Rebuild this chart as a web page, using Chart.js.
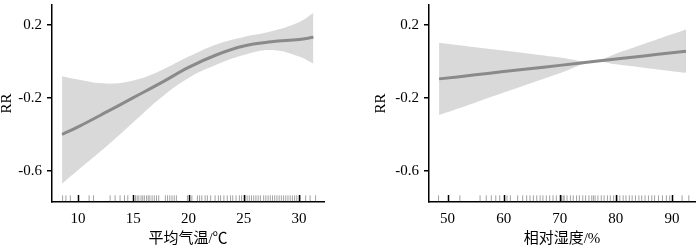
<!DOCTYPE html>
<html>
<head>
<meta charset="utf-8">
<script src="https://cdn.jsdelivr.net/npm/chart.js@4/dist/chart.umd.min.js"></script>
<style>
  body { margin: 0; background: #fff; }
  .box { position: absolute; top: 0; width: 350px; height: 247px; }
</style>
</head>
<body>
<div class="box" style="left:0"><canvas id="c1"></canvas></div>
<div class="box" style="left:350px"><canvas id="c2"></canvas></div>
<script>
/*
 * 数据：平均气温
 */
var tempX = [8.55, 10, 12.5, 15, 17.5, 20, 22.5, 25, 27.5, 30, 31.3];
var tempFit = [-0.40, -0.358, -0.279, -0.198, -0.117, -0.032, 0.036, 0.085, 0.108, 0.121, 0.133];
var tempUpper = [-0.081, -0.099, -0.121, -0.104, -0.049, 0.027, 0.094, 0.135, 0.166, 0.216, 0.266];
var tempLower = [-0.67, -0.595, -0.469, -0.333, -0.198, -0.090, -0.018, 0.036, 0.063, 0.027, -0.012];
var tempRug = [8.6, 8.9, 9.3, 11.0, 11.4, 12.9, 13.35, 13.8, 14.2, 14.5, 15.2, 15.35, 15.5, 15.7,
	15.85, 16.0, 16.2, 16.35, 16.5, 16.7, 16.9, 17.1, 17.3, 17.9, 18.1, 18.3, 18.5, 18.7, 18.9,
	19.9, 20.1, 20.3, 20.8, 21.0, 21.2, 21.5, 21.7, 22.0, 22.4, 22.7, 22.9, 23.2, 23.5, 23.8,
	24.0, 24.3, 24.6, 24.8, 25.1, 25.3, 25.5, 25.7, 25.9, 26.1, 26.3, 26.5, 26.8, 27.0, 27.2,
	27.4, 27.6, 27.8, 28.0, 28.2, 28.4, 28.6, 28.8, 29.0, 29.2, 29.4, 29.6, 29.8, 30.1, 30.6,
	31.0, 31.5];
var tempTicks = [10, 15, 20, 25, 30];

/*
 * 数据：相对湿度
 */
var humX = [48.5, 55, 60, 65, 70, 76, 80, 85, 90, 92.5];
var humFit = [-0.095, -0.073, -0.055, -0.038, -0.021, 0, 0.014, 0.031, 0.048, 0.057];
var humUpper = [0.103, 0.078, 0.060, 0.041, 0.022, 0, 0.043, 0.096, 0.149, 0.176];
var humLower = [-0.293, -0.224, -0.170, -0.117, -0.064, 0, -0.015, -0.034, -0.053, -0.062];
var humRug = [48.4, 52.2, 55.8, 56.9, 57.8, 58.6, 59.3, 60.6, 61.2, 62.5, 63.4, 64.1, 64.7, 65.3,
	65.9, 66.5, 67.0, 67.6, 68.2, 68.8, 69.4, 70.3, 70.6, 70.8, 71.3, 71.9, 72.4, 73.0, 73.5, 74.1,
	74.6, 75.2, 75.7, 76.0, 76.3, 76.8, 77.4, 77.9, 78.5, 79.0, 79.6, 80.2, 80.7, 81.3, 81.8,
	82.4, 82.9, 83.5, 84.1, 84.6, 85.2, 85.8, 86.4, 86.9, 87.6, 88.3, 89.0, 89.6, 91.8, 93.0];
var humTicks = [50, 60, 70, 80, 90];

var rrTicks = [0.2, -0.2, -0.6];

var SERIF = "'Liberation Serif', 'Noto Sans CJK SC', serif";
var RUG_Y = -0.75;

function pts(xs, ys) {
	var out = [];
	for (var i = 0; i < xs.length; i++) out.push({ x: xs[i], y: ys[i] });
	return out;
}

/*
 * 横轴刻度画在图内（向上）。
 */
var innerTicks = {
	id: 'innerTicks',
	afterDraw: function(chart) {
		var ctx = chart.ctx;
		var xs = chart.scales.x;
		var bottom = chart.chartArea.bottom;
		ctx.save();
		ctx.strokeStyle = '#000';
		ctx.lineWidth = 1.5;
		xs.ticks.forEach(function(t) {
			var px = Math.round(xs.getPixelForValue(t.value)) + 0.5;
			ctx.beginPath();
			ctx.moveTo(px, bottom);
			ctx.lineTo(px, bottom - 7);
			ctx.stroke();
		});
		ctx.restore();
	}
};

function makeChart(id, opt) {
	var ctx = document.getElementById(id).getContext('2d');
	return new Chart(ctx, {
		type: 'scatter',
		data: {
			datasets: [ {
				data: pts(opt.x, opt.upper),
				showLine: true,
				borderWidth: 0,
				pointRadius: 0,
				backgroundColor: '#d9d9d9',
				fill: '+1',
				tension: 0.4,
				order: 3
			}, {
				data: pts(opt.x, opt.lower),
				showLine: true,
				borderWidth: 0,
				pointRadius: 0,
				fill: false,
				tension: 0.4,
				order: 3
			}, {
				data: pts(opt.x, opt.fit),
				showLine: true,
				borderColor: '#8a8a8a',
				borderWidth: 3,
				pointRadius: 0,
				fill: false,
				tension: 0.4,
				order: 1
			}, {
				data: opt.rug.map(function(v) { return { x: v, y: RUG_Y }; }),
				showLine: false,
				pointStyle: 'line',
				rotation: 90,
				pointRadius: 3,
				borderColor: 'rgba(100,100,100,0.6)',
				borderWidth: 1,
				order: 2
			} ]
		},
		options: {
			responsive: false,
			animation: false,
			events: [],
			layout: { padding: opt.padding },
			plugins: { legend: { display: false }, tooltip: { enabled: false } },
			scales: {
				x: {
					type: 'linear',
					min: opt.xmin,
					max: opt.xmax,
					afterBuildTicks: function(s) {
						s.ticks = opt.ticks.map(function(v) { return { value: v }; });
					},
					afterFit: function(s) {
						s.height = 45;
						s.paddingLeft = 0;
						s.paddingRight = 0;
					},
					grid: { drawOnChartArea: false, drawTicks: false },
					border: { color: '#000', width: 1.5 },
					ticks: {
						padding: 8,
						color: '#000',
						font: { family: SERIF, size: 15 },
						callback: function(v) { return String(v); }
					},
					title: {
						display: true,
						text: opt.xtitle,
						color: '#000',
						padding: 0,
						font: { family: SERIF, size: 15, lineHeight: 1 }
					}
				},
				y: {
					min: -0.77,
					max: 0.31,
					afterBuildTicks: function(s) {
						s.ticks = rrTicks.map(function(v) { return { value: v }; });
					},
					afterFit: function(s) {
						s.width = opt.ywidth;
						s.paddingTop = 0;
						s.paddingBottom = 0;
					},
					grid: { drawOnChartArea: false, drawTicks: true, tickLength: 5, color: '#000', lineWidth: 1.5 },
					border: { color: '#000', width: 1.5 },
					ticks: {
						padding: 5,
						color: '#000',
						font: { family: SERIF, size: 15 },
						callback: function(v) { return String(v); }
					},
					title: {
						display: true,
						text: 'RR',
						color: '#000',
						padding: 0,
						font: { family: SERIF, size: 15, lineHeight: 1 }
					}
				}
			}
		},
		plugins: [ innerTicks ]
	});
}

document.getElementById('c1').width = 350;
document.getElementById('c1').height = 247;
document.getElementById('c2').width = 350;
document.getElementById('c2').height = 247;

makeChart('c1', {
	x: tempX, fit: tempFit, upper: tempUpper, lower: tempLower, rug: tempRug,
	ticks: tempTicks, xmin: 7.64, xmax: 32.26, xtitle: '平均气温/℃',
	ywidth: 52, padding: { left: 0, right: 26, top: 3, bottom: 0 }
});
makeChart('c2', {
	x: humX, fit: humFit, upper: humUpper, lower: humLower, rug: humRug,
	ticks: humTicks, xmin: 46.7, xmax: 94.1, xtitle: '相对湿度/%',
	ywidth: 55, padding: { left: 24, right: 1, top: 3, bottom: 0 }
});
</script>
</body>
</html>
